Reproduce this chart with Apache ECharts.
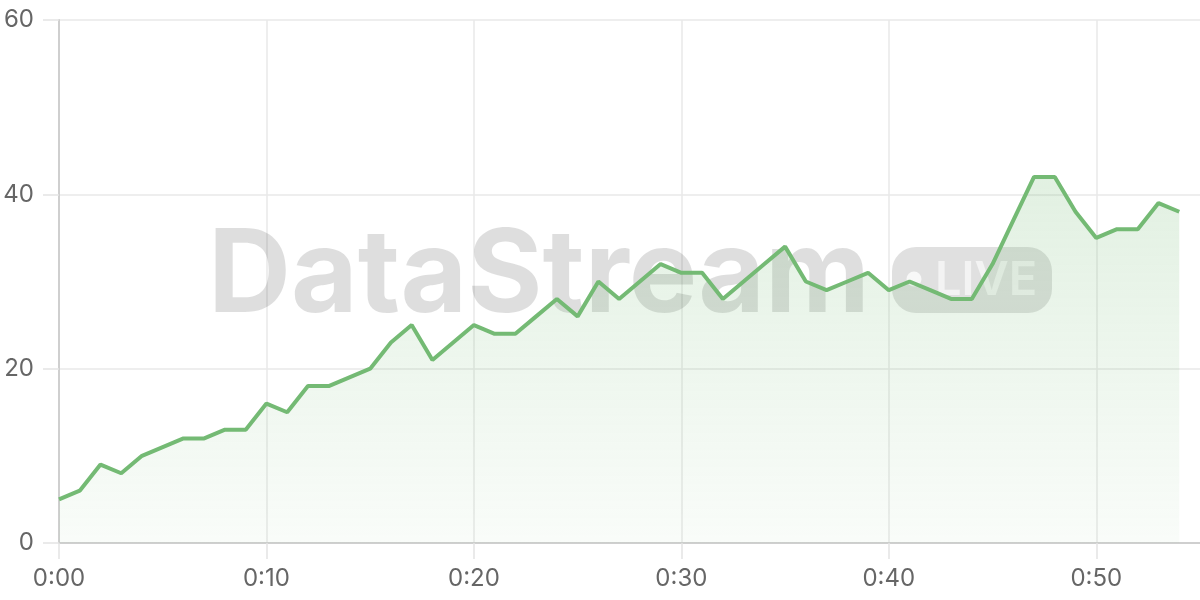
<!DOCTYPE html>
<html>
<head>
<meta charset="utf-8">
<title>DataStream live</title>
<script src="https://cdn.jsdelivr.net/npm/echarts@6/dist/echarts.min.js"></script>
<style>
    html, body { margin: 0; padding: 0; background: #fff; }
    #chart { width: 1200px; height: 600px; }
</style>
</head>
<body>
<div id="chart"></div>
<script>
// minute labels along the x axis (axis runs one step past the last reading)
const timeLabels = [
    '0:00', '0:01', '0:02', '0:03', '0:04', '0:05', '0:06', '0:07', '0:08', '0:09',
    '0:10', '0:11', '0:12', '0:13', '0:14', '0:15', '0:16', '0:17', '0:18', '0:19',
    '0:20', '0:21', '0:22', '0:23', '0:24', '0:25', '0:26', '0:27', '0:28', '0:29',
    '0:30', '0:31', '0:32', '0:33', '0:34', '0:35', '0:36', '0:37', '0:38', '0:39',
    '0:40', '0:41', '0:42', '0:43', '0:44', '0:45', '0:46', '0:47', '0:48', '0:49',
    '0:50', '0:51', '0:52', '0:53', '0:54', '0:55'
];

// one reading per minute, 0:00 .. 0:54
const streamValues = [
    5, 6, 9, 8, 10, 11, 12, 12, 13, 13,
    16, 15, 18, 18, 19, 20, 23, 25, 21, 23,
    25, 24, 24, 26, 28, 26, 30, 28, 30, 32,
    31, 31, 28, 30, 32, 34, 30, 29, 30, 31,
    29, 30, 29, 28, 28, 32, 37, 42, 42, 38,
    35, 36, 36, 39, 38
];

const yTicks = { min: 0, max: 60, step: 20 };

const LINE_COLOR = '#74ba74';
const LABEL_FONT = { color: '#666', fontSize: 24, fontFamily: 'Inter, sans-serif' };

const chart = echarts.init(document.getElementById('chart'));

chart.setOption({
    animation: false,
    grid: { left: 59, right: 0, top: 20, bottom: 57, containLabel: false },
    // watermark sits under the series, over the grid
    graphic: [
        {
            type: 'text',
            z: 1,
            x: 208,
            y: 277,
            style: {
                text: 'DataStream',
                font: 'bold 115px Inter, sans-serif',
                fill: 'rgba(0,0,0,0.13)',
                align: 'left',
                verticalAlign: 'middle'
            }
        },
        {
            type: 'rect',
            z: 1,
            shape: { x: 892, y: 247, width: 160, height: 66, r: 24 },
            style: { fill: 'rgba(0,0,0,0.12)' }
        },
        {
            type: 'circle',
            z: 1,
            shape: { cx: 914, cy: 279, r: 7.5 },
            style: { fill: 'rgba(255,255,255,0.75)' }
        },
        {
            type: 'text',
            z: 1,
            x: 935,
            y: 281,
            style: {
                text: 'LIVE',
                font: '600 47px Inter, sans-serif',
                fill: 'rgba(255,255,255,0.6)',
                align: 'left',
                verticalAlign: 'middle'
            }
        }
    ],
    xAxis: {
        type: 'category',
        boundaryGap: false,
        data: timeLabels,
        axisLine: { lineStyle: { color: '#cfcfcf', width: 2 } },
        axisTick: { show: true, interval: 9, length: 16, lineStyle: { color: '#e4e4e4', width: 1.5 } },
        axisLabel: Object.assign({ interval: 9, margin: 24 }, LABEL_FONT),
        splitLine: { show: true, interval: 9, lineStyle: { color: '#e8e8e8', width: 1.5 } }
    },
    yAxis: {
        type: 'value',
        min: yTicks.min,
        max: yTicks.max,
        interval: yTicks.step,
        axisLine: { show: true, lineStyle: { color: '#cfcfcf', width: 2 } },
        axisTick: { show: true, length: 16, lineStyle: { color: '#e4e4e4', width: 1.5 } },
        axisLabel: Object.assign({ margin: 25 }, LABEL_FONT),
        splitLine: { show: true, lineStyle: { color: '#e8e8e8', width: 1.5 } }
    },
    series: [{
        type: 'line',
        data: streamValues,
        symbol: 'none',
        z: 3,
        lineStyle: { color: LINE_COLOR, width: 4 },
        areaStyle: {
            color: new echarts.graphic.LinearGradient(0, 0, 0, 1, [
                { offset: 0, color: 'rgba(116,186,116,0.30)' },
                { offset: 1, color: 'rgba(116,186,116,0.06)' }
            ])
        }
    }]
});
</script>
</body>
</html>
